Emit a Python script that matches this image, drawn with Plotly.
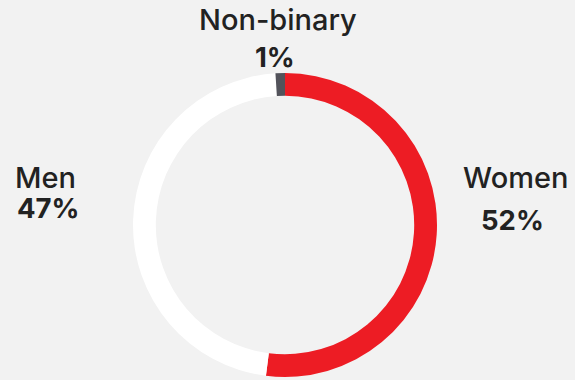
import plotly.graph_objects as go

# Gender split shown as a thin ring
labels = ["Women", "Men", "Non-binary"]
values = [52, 47, 1]
colors = ["#ed1c24", "#ffffff", "#53535b"]

W, H = 575, 380
BG = "#f2f2f2"
TEXT = "#222222"

fig = go.Figure(
    go.Pie(
        labels=labels,
        values=values,
        hole=0.85,
        sort=False,
        direction="clockwise",
        rotation=0,
        marker=dict(colors=colors, line=dict(width=0)),
        textinfo="none",
        hoverinfo="label+percent",
        showlegend=False,
        domain=dict(x=[133 / W, 437 / W], y=[3 / H, 307 / H]),
    )
)

# label positions in pixels (x, y from top) for name and percentage
label_pos = {
    "Women": ((515, 177), (512, 220)),
    "Men": ((45, 177), (48, 208)),
    "Non-binary": ((278, 20), (275, 57)),
}

annotations = []
for name, val in zip(labels, values):
    (nx, ny), (px, py) = label_pos[name]
    annotations.append(dict(
        x=nx / W, y=1 - ny / H, xref="paper", yref="paper",
        text=name, showarrow=False, xanchor="center", yanchor="middle",
        font=dict(family="Inter", size=29, color=TEXT, weight=500),
    ))
    annotations.append(dict(
        x=px / W, y=1 - py / H, xref="paper", yref="paper",
        text=f"<b>{val}%</b>", showarrow=False, xanchor="center", yanchor="middle",
        font=dict(family="Inter", size=27.5, color=TEXT),
    ))

fig.update_layout(
    width=W, height=H,
    margin=dict(l=0, r=0, t=0, b=0),
    paper_bgcolor=BG, plot_bgcolor=BG,
    annotations=annotations,
)

fig.write_html("out.html")
